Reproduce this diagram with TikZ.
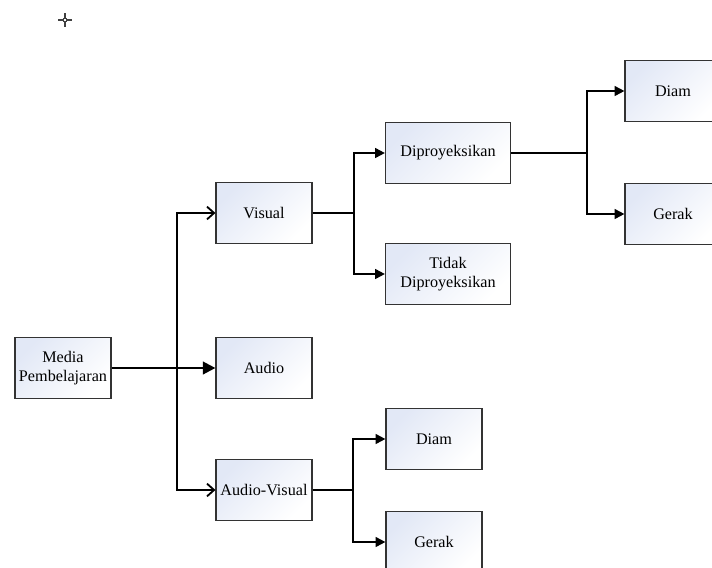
\documentclass[tikz,border=0pt]{standalone}
\usepackage{fontspec}
\setmainfont{Liberation Serif}
\usetikzlibrary{arrows.meta}
\definecolor{boxtop}{RGB}{226,232,246}
\tikzset{
  box/.style={draw=black!80, line width=0.8pt, inner sep=1pt, align=center,
    minimum width=2.4cm, minimum height=1.525cm,
    top color=boxtop, bottom color=white, shading angle=45,
    font=\fontsize{11.5}{13.5}\selectfont},
  widebox/.style={box, minimum width=3.125cm},
  link/.style={line width=1.3pt, -{Triangle[length=7pt,width=7pt]}},
  mainlink/.style={line width=1.7pt},
  barb/.style={-{Straight Barb[length=5pt,width=9pt,line width=1.3pt]}}
}
\begin{document}
\begin{tikzpicture}[x=0.025cm, y=-0.025cm]
\useasboundingbox (0,0) rectangle (712,567);

% Marker
\coordinate (mark) at (65,20);
\draw[black!75, line width=0.8pt] (mark) +(-7,0) -- +(7,0);
\draw[black!75, line width=0.8pt] (mark) +(0,-7) -- +(0,7);
\draw[black!75, fill=white, line width=0.6pt] (mark) +(-1.5,-1.5) rectangle +(1.5,1.5);

% Root
\node[box] (media) at (63,368) {Media\\Pembelajaran};

% Level 1
\node[box] (visual) at (264,213) {Visual};
\node[box] (audio) at (264,368) {Audio};
\node[box] (av) at (264,490) {Audio-Visual};

% Level 2
\node[widebox] (proy) at (448,153) {Diproyeksikan};
\node[widebox] (tidak) at (448,274) {Tidak\\Diproyeksikan};
\node[box] (avdiam) at (434,439) {Diam};
\node[box] (avgerak) at (434,542) {Gerak};

% Level 3
\node[box] (diam) at (673,91) {Diam};
\node[box] (gerak) at (673,214) {Gerak};

% Root to level 1
\coordinate (s1) at (177,368);
\draw[mainlink, -{Triangle[length=9pt,width=9pt]}] (media) -- (audio);
\draw[mainlink, barb] (s1) |- (visual);
\draw[mainlink, barb] (s1) |- (av);

% Visual branch
\coordinate (s2) at (354,213);
\draw[line width=1.3pt] (visual) -- (s2);
\draw[link] (s2) |- (proy);
\draw[link] (s2) |- (tidak);

% Diproyeksikan branch
\coordinate (s3) at (587,153);
\draw[line width=1.3pt] (proy) -- (s3);
\draw[link] (s3) |- (diam);
\draw[link] (s3) |- (gerak);

% Audio-Visual branch
\coordinate (s4) at (353,490);
\draw[line width=1.3pt] (av) -- (s4);
\draw[link] (s4) |- (avdiam);
\draw[link] (s4) |- (avgerak);
\end{tikzpicture}
\end{document}
